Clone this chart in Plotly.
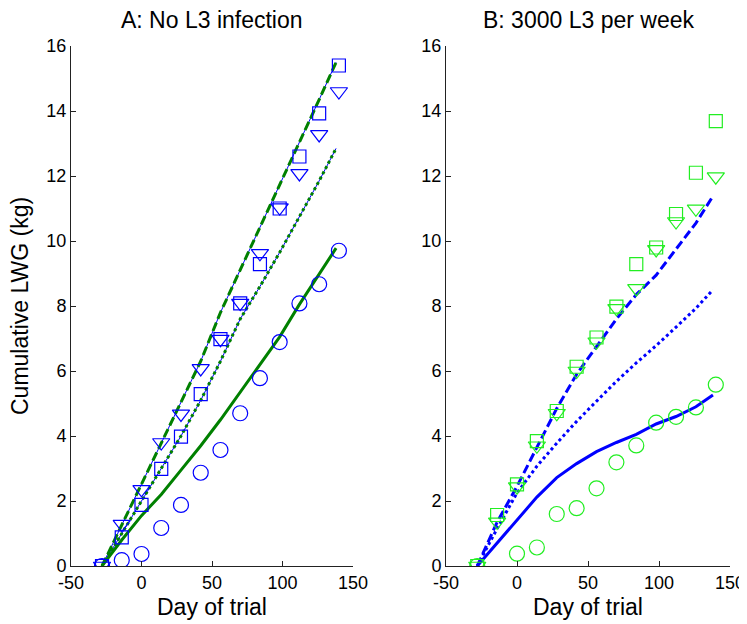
import plotly.graph_objects as go

# ---------------- data ----------------
obs_days = [-28, -14, 0, 14, 28, 42, 56, 70, 84, 98, 112, 126, 140]
model_days = [-28, -14, 0, 14, 28, 42, 56, 70, 84, 98, 112, 126, 138]

# Panel A: No L3 infection (observed)
a_circle = [0, 0.18, 0.37, 1.17, 1.88, 2.87, 3.57, 4.70, 5.78, 6.89, 8.08, 8.67, 9.70]
a_square = [0, 0.88, 1.88, 2.99, 3.98, 5.29, 6.98, 8.08, 9.29, 11.0, 12.6, 13.93, 15.4]
a_triangle = [0, 1.29, 2.36, 3.80, 4.68, 6.08, 6.98, 8.09, 9.62, 11.03, 12.08, 13.28, 14.6]
# Panel A: model
a_solid = [0, 0.80, 1.55, 2.20, 2.95, 3.70, 4.50, 5.35, 6.20, 7.05, 8.05, 9.00, 9.78]
a_dotted = [0, 1.00, 2.00, 3.00, 4.00, 5.10, 6.30, 7.60, 8.60, 9.65, 10.75, 11.85, 12.85]
a_dashed = [0, 1.25, 2.50, 3.75, 5.00, 6.30, 7.80, 9.10, 10.40, 11.75, 13.05, 14.35, 15.50]

# Panel B: 3000 L3 per week (observed)
b_circle = [0, None, 0.38, 0.57, 1.60, 1.78, 2.39, 3.19, 3.71, 4.41, 4.59, 4.88, 5.58]
b_square = [0, 1.57, 2.51, 3.84, 4.77, 6.13, 7.03, 7.98, 9.29, 9.80, 10.83, 12.10, 13.69]
b_triangle = [0, 1.36, 2.44, 3.70, 4.70, 6.00, 6.90, 7.93, 8.54, 9.74, 10.60, 10.99, 11.98]
# Panel B: model
b_solid = [0, 0.70, 1.42, 2.12, 2.72, 3.15, 3.52, 3.80, 4.05, 4.37, 4.60, 4.90, 5.26]
b_dotted = [0, 1.15, 2.25, 3.07, 3.78, 4.45, 5.07, 5.68, 6.25, 6.78, 7.35, 7.93, 8.50]
b_dashed = [0, 1.35, 2.45, 3.65, 4.85, 5.90, 6.75, 7.60, 8.35, 8.95, 9.75, 10.55, 11.38]

titles = ["A: No L3 infection", "B: 3000 L3 per week"]
x_title = "Day of trial"
y_title = "Cumulative LWG (kg)"
x_ticks = [-50, 0, 50, 100, 150]
x_ticktext = ["-50", "0", "50", "100", "150"]
y_ticks = [0, 2, 4, 6, 8, 10, 12, 14, 16]

# ---------------- figure ----------------
OFF = 8  # browser body margin
W, H = 747 - OFF, 624 - OFF
FONT = "Liberation Sans, Arial, sans-serif"
BLUE = "#0000FF"
GREEN = "#008000"
LGREEN = "#22EE22"

fig = go.Figure()

def px_x(p):
    return (p - OFF) / W

def px_y(p):
    return 1 - (p - OFF) / H

def add_lines(xa, ya, solid, dotted, dashed, color, under=None):
    if under:
        for vals in (dotted, dashed):
            fig.add_trace(go.Scatter(x=model_days, y=vals, mode="lines", xaxis=xa, yaxis=ya,
                                     line=dict(color=under, width=1), showlegend=False))
    fig.add_trace(go.Scatter(x=model_days, y=solid, mode="lines", xaxis=xa, yaxis=ya,
                             line=dict(color=color, width=3), showlegend=False))
    fig.add_trace(go.Scatter(x=model_days, y=dotted, mode="lines", xaxis=xa, yaxis=ya,
                             line=dict(color=color, width=3, dash="3px,3px"), showlegend=False))
    fig.add_trace(go.Scatter(x=model_days, y=dashed, mode="lines", xaxis=xa, yaxis=ya,
                             line=dict(color=color, width=3, dash="9px,4px"), showlegend=False))

def add_markers(xa, ya, circ, sq, tri, color):
    for vals, sym, size in ((circ, "circle-open", 15), (sq, "square-open", 13), (tri, "triangle-down-open", 15)):
        fig.add_trace(go.Scatter(x=obs_days, y=vals, mode="markers", xaxis=xa, yaxis=ya,
                                 marker=dict(symbol=sym, size=size, color=color, line=dict(color=color, width=1.2)),
                                 showlegend=False))

add_lines("x", "y", a_solid, a_dotted, a_dashed, GREEN, under=BLUE)
add_markers("x", "y", a_circle, a_square, a_triangle, BLUE)
add_lines("x2", "y2", b_solid, b_dotted, b_dashed, BLUE)
add_markers("x2", "y2", b_circle, b_square, b_triangle, LGREEN)

ax_common = dict(showline=True, linecolor="#222", linewidth=1, ticks="inside", ticklen=5,
                 tickcolor="#222", showgrid=False, zeroline=False, automargin=False,
                 tickfont=dict(family=FONT, size=18, color="black"), mirror=False)
xax = dict(range=[-50, 150], tickmode="array", tickvals=x_ticks, ticktext=x_ticktext, **ax_common)
yax = dict(range=[0, 16], tickmode="array", tickvals=y_ticks, **ax_common)

yd = [px_y(566), px_y(46)]
fig.update_layout(
    width=W, height=H, margin=dict(l=0, r=0, t=0, b=0),
    paper_bgcolor="white", plot_bgcolor="white", showlegend=False,
    xaxis=dict(domain=[px_x(71), px_x(353)], anchor="y", **xax),
    yaxis=dict(domain=yd, anchor="x", **yax),
    xaxis2=dict(domain=[px_x(446), px_x(730)], anchor="y2", **xax),
    yaxis2=dict(domain=yd, anchor="x2", **yax),
)

anns = []
for cx, t in ((212, titles[0]), (588, titles[1])):
    anns.append(dict(x=px_x(cx), y=px_y(20), xref="paper", yref="paper", text=t, showarrow=False,
                     font=dict(family=FONT, size=23, color="black"), xanchor="center", yanchor="middle"))
    anns.append(dict(x=px_x(cx), y=px_y(607), xref="paper", yref="paper", text=x_title, showarrow=False,
                     font=dict(family=FONT, size=23, color="black"), xanchor="center", yanchor="middle"))
anns.append(dict(x=px_x(20), y=px_y(306), xref="paper", yref="paper", text=y_title, showarrow=False,
                 textangle=-90, font=dict(family=FONT, size=23, color="black"),
                 xanchor="center", yanchor="middle"))
fig.update_layout(annotations=anns)

fig.write_html("out.html")
